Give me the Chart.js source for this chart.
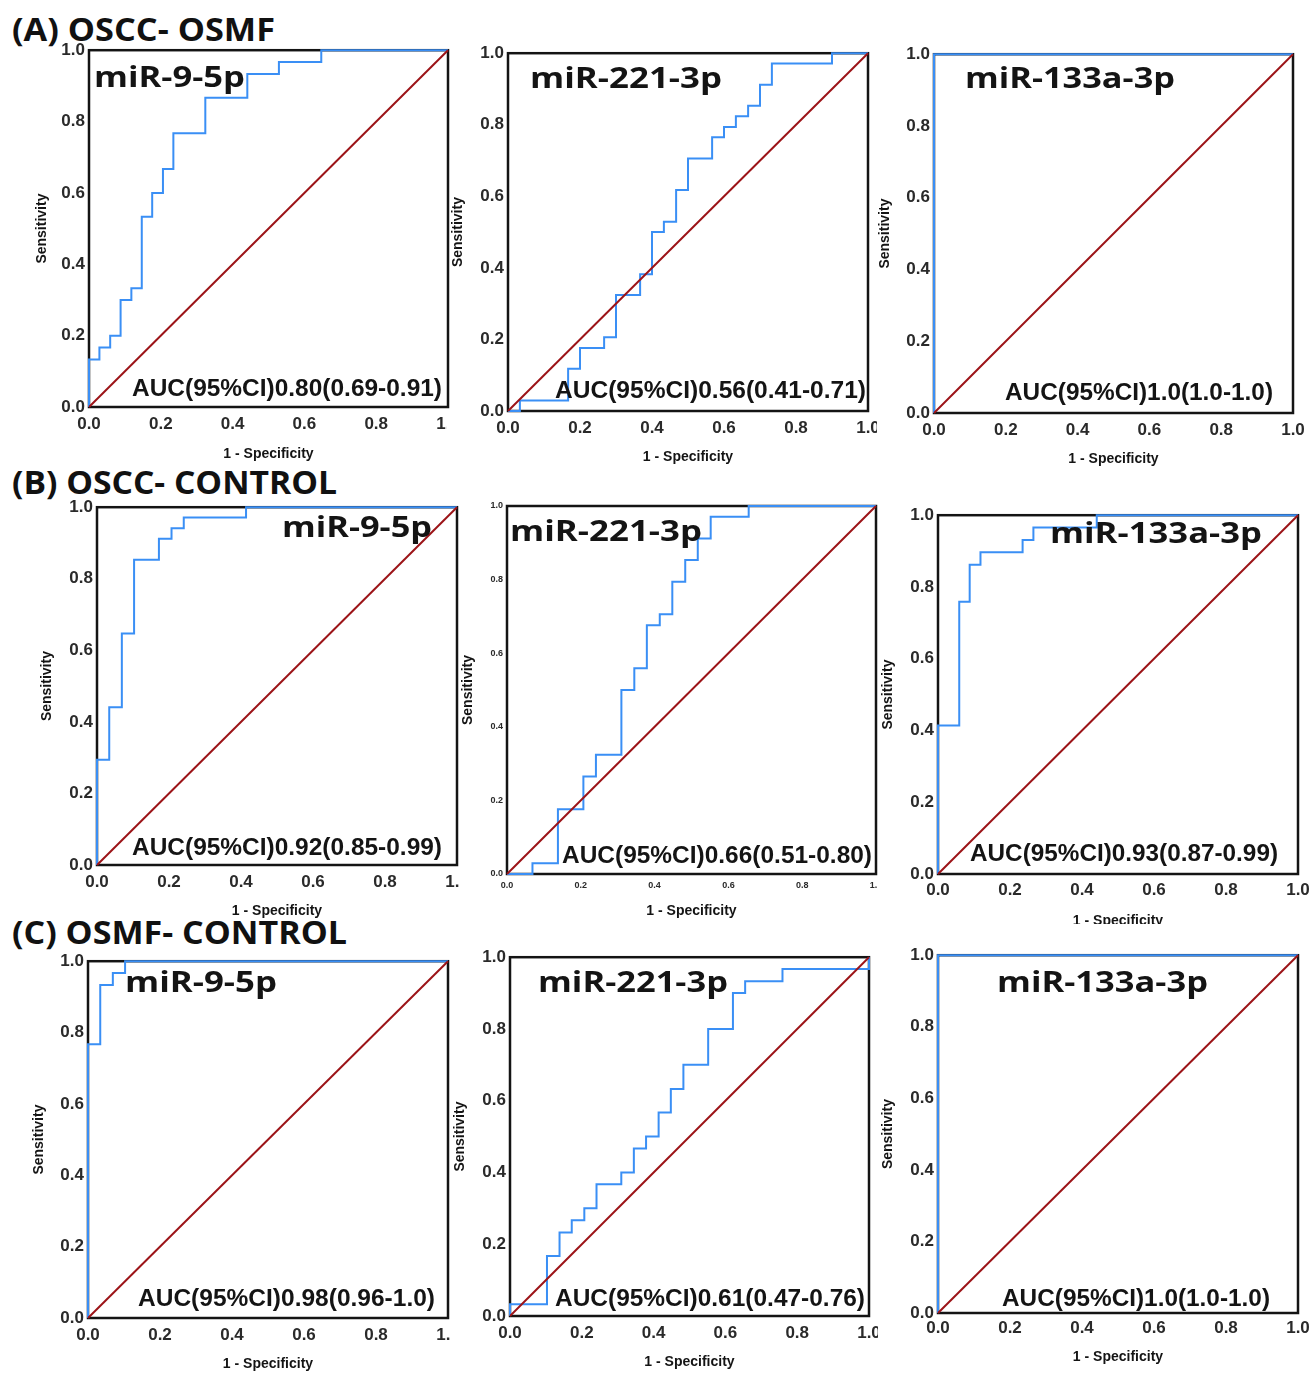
<!DOCTYPE html>
<html><head><meta charset="utf-8">
<script src="https://cdn.jsdelivr.net/npm/chart.js@4.4.1/dist/chart.umd.min.js"></script>
<style>
html,body{margin:0;padding:0;background:#fff;}
#page{position:relative;width:1311px;height:1374px;overflow:hidden;background:#fff;}
#page canvas{position:absolute;}
.heading{position:absolute;font-family:"Open Sans";font-weight:700;font-size:32px;line-height:32px;white-space:nowrap;color:#111;transform-origin:0 0;}
</style></head><body><div id="page"></div>
<script>
// ---------- data ----------
const comparisons = ["(A) OSCC- OSMF", "(B) OSCC- CONTROL", "(C) OSMF- CONTROL"];
const markers = ["miR-9-5p", "miR-221-3p", "miR-133a-3p"];
const tickValues = [0, 0.2, 0.4, 0.6, 0.8, 1.0];
const tickLabels = ["0.0", "0.2", "0.4", "0.6", "0.8", "1.0"];
const xAxisTitle = "1 - Specificity";
const yAxisTitle = "Sensitivity";
const refFpr = [0, 1];
const refTpr = [0, 1];

// (A) OSCC - OSMF
const fprA_miR9 = [0, 0, 0.029, 0.029, 0.059, 0.059, 0.088, 0.088, 0.118, 0.118, 0.147, 0.147, 0.176, 0.176, 0.206, 0.206, 0.235, 0.235, 0.324, 0.324, 0.441, 0.441, 0.529, 0.529, 0.647, 0.647, 1];
const tprA_miR9 = [0, 0.133, 0.133, 0.167, 0.167, 0.2, 0.2, 0.3, 0.3, 0.333, 0.333, 0.533, 0.533, 0.6, 0.6, 0.667, 0.667, 0.767, 0.767, 0.867, 0.867, 0.933, 0.933, 0.967, 0.967, 1, 1];
const fprA_miR221 = [0, 0.033, 0.033, 0.167, 0.167, 0.2, 0.2, 0.267, 0.267, 0.3, 0.3, 0.367, 0.367, 0.4, 0.4, 0.433, 0.433, 0.467, 0.467, 0.5, 0.5, 0.567, 0.567, 0.6, 0.6, 0.633, 0.633, 0.667, 0.667, 0.7, 0.7, 0.733, 0.733, 0.9, 0.9, 1];
const tprA_miR221 = [0, 0, 0.029, 0.029, 0.118, 0.118, 0.176, 0.176, 0.206, 0.206, 0.324, 0.324, 0.382, 0.382, 0.5, 0.5, 0.529, 0.529, 0.618, 0.618, 0.706, 0.706, 0.765, 0.765, 0.794, 0.794, 0.824, 0.824, 0.853, 0.853, 0.912, 0.912, 0.971, 0.971, 1, 1];
const fprA_miR133 = [0, 0, 1];
const tprA_miR133 = [0, 1, 1];
const aucA = ["AUC(95%CI)0.80(0.69-0.91)", "AUC(95%CI)0.56(0.41-0.71)", "AUC(95%CI)1.0(1.0-1.0)"];

// (B) OSCC - CONTROL
const fprB_miR9 = [0, 0, 0.034, 0.034, 0.069, 0.069, 0.103, 0.103, 0.172, 0.172, 0.207, 0.207, 0.241, 0.241, 0.414, 0.414, 1];
const tprB_miR9 = [0, 0.294, 0.294, 0.441, 0.441, 0.647, 0.647, 0.853, 0.853, 0.912, 0.912, 0.941, 0.941, 0.971, 0.971, 1, 1];
const fprB_miR221 = [0, 0.069, 0.069, 0.138, 0.138, 0.207, 0.207, 0.241, 0.241, 0.31, 0.31, 0.345, 0.345, 0.379, 0.379, 0.414, 0.414, 0.448, 0.448, 0.483, 0.483, 0.517, 0.517, 0.552, 0.552, 0.655, 0.655, 1];
const tprB_miR221 = [0, 0, 0.029, 0.029, 0.176, 0.176, 0.265, 0.265, 0.324, 0.324, 0.5, 0.5, 0.559, 0.559, 0.676, 0.676, 0.706, 0.706, 0.794, 0.794, 0.853, 0.853, 0.912, 0.912, 0.971, 0.971, 1, 1];
const fprB_miR133 = [0, 0, 0.059, 0.059, 0.088, 0.088, 0.118, 0.118, 0.235, 0.235, 0.265, 0.265, 0.441, 0.441, 1];
const tprB_miR133 = [0, 0.414, 0.414, 0.759, 0.759, 0.862, 0.862, 0.897, 0.897, 0.931, 0.931, 0.966, 0.966, 1, 1];
const aucB = ["AUC(95%CI)0.92(0.85-0.99)", "AUC(95%CI)0.66(0.51-0.80)", "AUC(95%CI)0.93(0.87-0.99)"];

// (C) OSMF - CONTROL
const fprC_miR9 = [0, 0, 0.034, 0.034, 0.069, 0.069, 0.103, 0.103, 1];
const tprC_miR9 = [0, 0.767, 0.767, 0.933, 0.933, 0.967, 0.967, 1, 1];
const fprC_miR221 = [0, 0, 0.103, 0.103, 0.138, 0.138, 0.172, 0.172, 0.207, 0.207, 0.241, 0.241, 0.31, 0.31, 0.345, 0.345, 0.379, 0.379, 0.414, 0.414, 0.448, 0.448, 0.483, 0.483, 0.552, 0.552, 0.621, 0.621, 0.655, 0.655, 0.759, 0.759, 1, 1];
const tprC_miR221 = [0, 0.033, 0.033, 0.167, 0.167, 0.233, 0.233, 0.267, 0.267, 0.3, 0.3, 0.367, 0.367, 0.4, 0.4, 0.467, 0.467, 0.5, 0.5, 0.567, 0.567, 0.633, 0.633, 0.7, 0.7, 0.8, 0.8, 0.9, 0.9, 0.933, 0.933, 0.967, 0.967, 1];
const fprC_miR133 = [0, 0, 1];
const tprC_miR133 = [0, 1, 1];
const aucC = ["AUC(95%CI)0.98(0.96-1.0)", "AUC(95%CI)0.61(0.47-0.76)", "AUC(95%CI)1.0(1.0-1.0)"];

// ---------- layout (page pixels) ----------
const headingPos = [[12, 275, 30], [12, 337, 483], [12, 347, 933]];
const panels = [
  {fpr: fprA_miR9,   tpr: tprA_miR9,   marker: markers[0], auc: aucA[0], box: [89, 50, 448, 407],   sensX: 42,  specY: 455,  mir: [94, 245, 77],    aucPos: [132, 442, 388],  tick: 17, pad: 7, cutX: 447},
  {fpr: fprA_miR221, tpr: tprA_miR221, marker: markers[1], auc: aucA[1], box: [508, 53, 868, 411],  sensX: 458, specY: 458,  mir: [530, 722, 78],   aucPos: [555, 866, 390],  tick: 17, pad: 7, cutX: 877},
  {fpr: fprA_miR133, tpr: tprA_miR133, marker: markers[2], auc: aucA[2], box: [934, 54, 1293, 413], sensX: 885, specY: 460,  mir: [965, 1175, 78],  aucPos: [1005, 1273, 392], tick: 17, pad: 7},
  {fpr: fprB_miR9,   tpr: tprB_miR9,   marker: markers[0], auc: aucB[0], box: [97, 507, 457, 865],  sensX: 47,  specY: 912,  mir: [282, 432, 527],  aucPos: [132, 442, 847],  tick: 17, pad: 7, cutX: 459},
  {fpr: fprB_miR221, tpr: tprB_miR221, marker: markers[1], auc: aucB[1], box: [507, 506, 876, 874], sensX: 468, specY: 912,  mir: [510, 702, 531],  aucPos: [562, 872, 855],  tick: 9,  pad: 6, cutX: 877},
  {fpr: fprB_miR133, tpr: tprB_miR133, marker: markers[2], auc: aucB[2], box: [938, 515, 1298, 874], sensX: 888, specY: 922, mir: [1050, 1262, 533], aucPos: [970, 1278, 853],  tick: 17, pad: 6, cutY: 924},
  {fpr: fprC_miR9,   tpr: tprC_miR9,   marker: markers[0], auc: aucC[0], box: [88, 961, 448, 1318], sensX: 39,  specY: 1365, mir: [125, 277, 982],  aucPos: [138, 435, 1298], tick: 17, pad: 7, cutX: 450},
  {fpr: fprC_miR221, tpr: tprC_miR221, marker: markers[1], auc: aucC[1], box: [510, 957, 869, 1316], sensX: 460, specY: 1363, mir: [538, 728, 982],  aucPos: [555, 865, 1298], tick: 17, pad: 7, cutX: 878},
  {fpr: fprC_miR133, tpr: tprC_miR133, marker: markers[2], auc: aucC[2], box: [938, 955, 1298, 1313], sensX: 888, specY: 1358, mir: [997, 1208, 982], aucPos: [1002, 1270, 1298], tick: 17, pad: 5}
];

const BLUE = '#3a8ff5';
const RED = '#9c1418';
const INK = '#141414';
const page = document.getElementById('page');

function drawFitted(ctx, text, family, size, capRatio, left, right, capCenter, ox, oy) {
  ctx.save();
  ctx.font = `bold ${size}px ${family}`;
  const w = ctx.measureText(text).width;
  const sx = (right - left) / w;
  ctx.translate(left - ox, capCenter + size * capRatio / 2 - oy);
  ctx.scale(sx, 1);
  ctx.fillStyle = INK;
  ctx.textAlign = 'left';
  ctx.textBaseline = 'alphabetic';
  ctx.fillText(text, 0, 0);
  ctx.restore();
}

const framePlugin = {
  id: 'frame',
  beforeDatasetsDraw(chart) {
    const a = chart.chartArea, c = chart.ctx;
    c.save();
    c.strokeStyle = INK;
    c.lineWidth = 2.5;
    c.strokeRect(a.left, a.top, a.right - a.left, a.bottom - a.top);
    c.restore();
  },
  afterDatasetsDraw(chart, args, o) {
    const c = chart.ctx, p = o.panel;
    drawFitted(c, p.marker, '"Open Sans"', 29, 0.714, p.mir[0], p.mir[1], p.mir[2], o.ox, o.oy);
    drawFitted(c, p.auc, '"Liberation Sans"', 23, 0.716, p.aucPos[0], p.aucPos[1], p.aucPos[2], o.ox, o.oy);
  }
};

comparisons.forEach((t, i) => {
  const d = document.createElement('div');
  d.className = 'heading';
  d.textContent = t;
  page.appendChild(d);
  const [l, r, cy] = headingPos[i];
  d.style.left = l + 'px';
  d.style.top = (cy - 17) + 'px';
  const w = d.getBoundingClientRect().width;
  d.style.transform = `scaleX(${(r - l) / w})`;
});

panels.forEach(p => {
  const [bl, bt, br, bb] = p.box;
  const half = 14 * 1.2 / 2;
  const cl = Math.round(p.sensX - half);
  const ct = bt - 14;
  const cr = br + 22;
  const cb = Math.round(p.specY + half);
  const W = cr - cl, H = cb - ct;
  const cv = document.createElement('canvas');
  cv.width = W; cv.height = H;
  cv.style.left = cl + 'px'; cv.style.top = ct + 'px';
  cv.style.width = W + 'px'; cv.style.height = H + 'px';
  const clipBottom = p.cutY ? (p.cutY - ct) : H;
  if (p.cutX || p.cutY) {
    const edgeY = bb + 3 - ct;
    const cx = p.cutX ? (p.cutX - cl) : W;
    cv.style.clipPath = `polygon(0px 0px, ${W}px 0px, ${W}px ${edgeY}px, ${cx}px ${edgeY}px, ${cx}px ${clipBottom}px, 0px ${clipBottom}px)`;
  }
  page.appendChild(cv);

  const tickFont = {family: '"Liberation Sans", Arial, sans-serif', size: p.tick, weight: 'bold'};
  const titleFont = {family: '"Liberation Sans", Arial, sans-serif', size: 14, weight: 'bold'};
  const common = {
    type: 'linear', min: 0, max: 1,
    afterBuildTicks: s => { s.ticks = tickValues.map(v => ({value: v})); },
    grid: {display: false, drawTicks: false},
    border: {display: false},
  };

  new Chart(cv, {
    type: 'scatter',
    data: {
      datasets: [
        {data: refFpr.map((x, i) => ({x, y: refTpr[i]})), showLine: true, borderColor: RED, borderWidth: 2, pointRadius: 0, clip: false},
        {data: p.fpr.map((x, i) => ({x, y: p.tpr[i]})), showLine: true, borderColor: BLUE, borderWidth: 2, pointRadius: 0, clip: false}
      ]
    },
    options: {
      responsive: false,
      animation: false,
      devicePixelRatio: 1,
      events: [],
      layout: {padding: {left: 0, top: bt - ct, right: cr - br, bottom: 0}},
      plugins: {legend: {display: false}, tooltip: {enabled: false}, frame: {panel: p, ox: cl, oy: ct}},
      scales: {
        x: Object.assign({}, common, {
          position: 'bottom',
          ticks: {font: tickFont, color: '#2a2a2a', padding: p.pad, maxRotation: 0, autoSkip: false, callback: (v, i) => tickLabels[i]},
          title: {display: true, text: xAxisTitle, font: titleFont, color: INK, padding: 0},
          afterFit: s => { s.height = cb - bb; }
        }),
        y: Object.assign({}, common, {
          position: 'left',
          ticks: {font: tickFont, color: '#2a2a2a', padding: 4, autoSkip: false, callback: (v, i) => tickLabels[i]},
          title: {display: true, text: yAxisTitle, font: titleFont, color: INK, padding: 0},
          afterFit: s => { s.width = bl - cl; }
        })
      }
    },
    plugins: [framePlugin]
  });
});
</script>
</body></html>
